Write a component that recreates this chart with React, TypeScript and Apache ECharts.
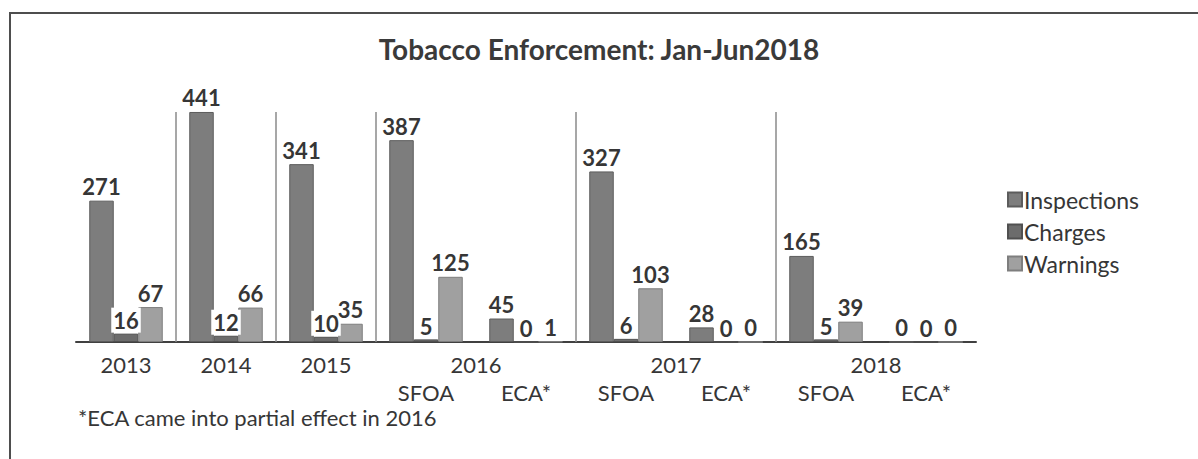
import React, { useEffect, useRef } from 'react';
import * as echarts from 'echarts';

const chartTitle = 'Tobacco Enforcement: Jan-Jun2018';
const footnote = '*ECA came into partial effect in 2016';
const years = ['2013', '2014', '2015', '2016', '2016', '2017', '2017', '2018', '2018'];
const subLabels = ['', '', '', 'SFOA', 'ECA*', 'SFOA', 'ECA*', 'SFOA', 'ECA*'];
const seriesNames = ['Inspections', 'Charges', 'Warnings'];
const inspections = [271, 441, 341, 387, 45, 327, 28, 165, 0];
const charges = [16, 12, 10, 5, 0, 6, 0, 5, 0];
const warnings = [67, 66, 35, 125, 1, 103, 0, 39, 0];

const FONT = 'Lato, "Open Sans", sans-serif';
const TEXT = '#363636';

export default function App() {
  const ref = useRef<HTMLDivElement>(null);

  useEffect(() => {
    if (!ref.current) return;
    const chart = echarts.init(ref.current, undefined, { renderer: 'svg' });

    // year groups: centre = mean of the category indices of that year
    const groups: { year: string; sum: number; n: number }[] = [];
    years.forEach((y, i) => {
      const g = groups.find((gg) => gg.year === y);
      if (g) {
        g.sum += i;
        g.n += 1;
      } else groups.push({ year: y, sum: i, n: 1 });
    });
    const categories = years.map((y, i) => (subLabels[i] ? y + ' ' + subLabels[i] : y));
    const topValue = Math.max(...inspections, ...charges, ...warnings);
    // dividers: at the left edge of each category where the year changes
    const dividers = years
      .map((y, i) => (i > 0 && y !== years[i - 1] ? [i, topValue] : null))
      .filter((d) => d !== null);

    const labelBase: any = {
      show: true,
      position: 'top',
      distance: 3,
      fontFamily: FONT,
      fontSize: 22,
      fontWeight: 'bold',
      color: TEXT,
    };

    const colors = ['#7d7d7d', '#6c6c6c', '#a0a0a0'];
    const borders = ['#5c5c5c', '#505050', '#7e7e7e'];
    const datasets = [inspections, charges, warnings];

    const barSeries = seriesNames.map((name, k) => ({
      name,
      type: 'bar',
      xAxisIndex: 0,
      data: datasets[k],
      barWidth: 24.5,
      barGap: '0%',
      itemStyle: { color: colors[k], borderColor: borders[k], borderWidth: 1 },
      label:
        k === 1
          ? { ...labelBase, backgroundColor: '#ffffff', padding: [2, 2, 1, 2], distance: 1 }
          : labelBase,
    }));

    chart.setOption({
      animation: false,
      backgroundColor: '#ffffff',
      title: {
        text: chartTitle,
        left: 'center',
        top: 30,
        textStyle: { fontFamily: FONT, fontSize: 28, fontWeight: 'bold', color: '#3a3a3a' },
      },
      legend: {
        orient: 'vertical',
        left: 1002,
        top: 183,
        itemWidth: 14,
        itemHeight: 14,
        itemGap: 9,
        icon: 'rect',
        data: seriesNames,
        textStyle: { fontFamily: FONT, fontSize: 23, color: TEXT, padding: [0, 0, 0, -3] },
      },
      grid: { left: 76, right: 222, top: 81.2, bottom: 117, containLabel: false },
      xAxis: [
        {
          type: 'category',
          data: categories,
          position: 'bottom',
          axisLine: { show: true, lineStyle: { color: '#404040', width: 2 } },
          axisTick: { show: false },
          axisLabel: {
            interval: 0,
            margin: 39,
            fontFamily: FONT,
            fontSize: 22,
            color: TEXT,
            formatter: (_v: string, i: number) => subLabels[i] || '',
          },
          splitLine: { show: false },
        },
        {
          type: 'value',
          position: 'bottom',
          min: -0.5,
          max: 8.5,
          interval: 0.5,
          axisLine: { show: false },
          axisTick: { show: false },
          splitLine: { show: false },
          axisLabel: {
            margin: 11,
            showMinLabel: true,
            showMaxLabel: true,
            fontFamily: FONT,
            fontSize: 22,
            color: TEXT,
            formatter: (v: number) => {
              const g = groups.find((gg) => Math.abs(gg.sum / gg.n - v) < 1e-6);
              return g ? g.year : '';
            },
          },
        },
      ],
      yAxis: { type: 'value', min: 0, max: 500, show: false, splitLine: { show: false } },
      series: [
        ...barSeries,
        {
          name: 'dividers',
          type: 'custom',
          xAxisIndex: 0,
          silent: true,
          z: 1,
          data: dividers,
          renderItem: (_params: any, api: any) => {
            const idx = api.value(0);
            const band = api.size([1, 0])[0];
            const p0 = api.coord([idx, 0]);
            const p1 = api.coord([idx, api.value(1)]);
            const x = p0[0] - band / 2;
            return {
              type: 'line',
              shape: { x1: x, y1: p0[1], x2: x, y2: p1[1] },
              style: { stroke: '#8a8a8a', lineWidth: 1.5 },
            };
          },
        },
      ],
      graphic: [
        {
          type: 'rect',
          silent: true,
          shape: { x: 10, y: 13, width: 1200, height: 470 },
          style: { fill: 'none', stroke: '#4e4e4e', lineWidth: 2 },
        },
        {
          type: 'text',
          left: 78,
          top: 406,
          style: { text: footnote, font: '22px Lato', fill: TEXT },
        },
      ],
    });

    return () => chart.dispose();
  }, []);

  return (
    <div
      ref={ref}
      style={{ position: 'absolute', left: 0, top: 0, width: 1198, height: 459, background: '#fff' }}
    />
  );
}
